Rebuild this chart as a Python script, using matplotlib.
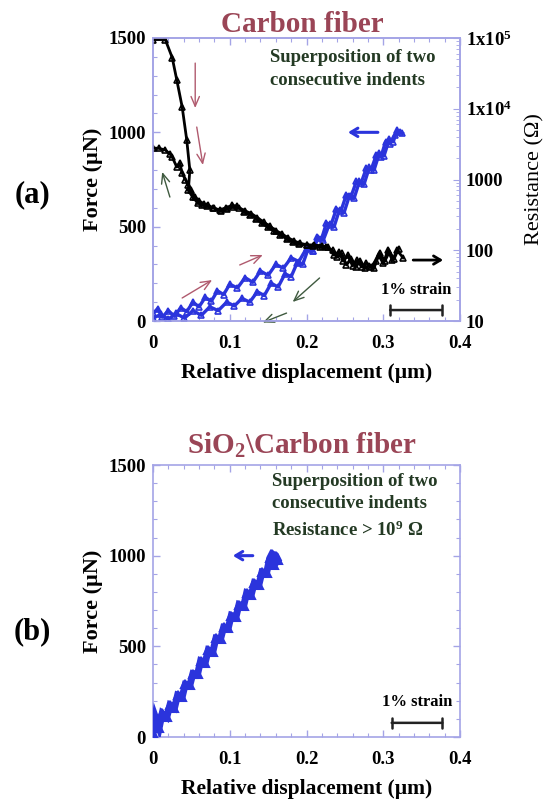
import numpy as np
import matplotlib
matplotlib.use("Agg")
import matplotlib.pyplot as plt
import matplotlib.transforms as mtransforms
from matplotlib.ticker import MultipleLocator, LogLocator, FixedLocator, NullFormatter

# ----------------------------
# Data
# ----------------------------
# (a) force, loading branch (x in um, F in uN)
load_x = [0.000, 0.006, 0.012, 0.020, 0.028, 0.036, 0.044, 0.052, 0.060, 0.068,
          0.076, 0.084, 0.092, 0.100, 0.110, 0.120, 0.130, 0.140, 0.150, 0.160,
          0.170, 0.180, 0.190, 0.200, 0.208, 0.215, 0.222, 0.230, 0.236, 0.243,
          0.249, 0.256, 0.262, 0.269, 0.275, 0.282, 0.288, 0.295, 0.301, 0.308,
          0.313, 0.318, 0.325]
load_F = [40, 65, 20, 55, 25, 70, 50, 100, 75, 125,
          105, 160, 140, 195, 175, 230, 205, 265, 242, 300,
          280, 335, 315, 385, 370, 440, 430, 515, 500, 590,
          575, 665, 650, 740, 725, 815, 800, 890, 875, 965,
          950, 1010, 995]

# (a) force, unloading branch
unload_x = [0.322, 0.315, 0.309, 0.303, 0.297, 0.291, 0.284, 0.278, 0.271, 0.265,
            0.258, 0.252, 0.245, 0.239, 0.232, 0.226, 0.220, 0.214, 0.208, 0.202,
            0.195, 0.188, 0.180, 0.172, 0.163, 0.154, 0.145, 0.136, 0.126, 0.116,
            0.106, 0.096, 0.085, 0.074, 0.063, 0.052, 0.041, 0.030, 0.020, 0.010,
            0.000]
unload_F = [1000, 985, 940, 950, 870, 880, 800, 810, 730, 740,
            660, 670, 585, 595, 510, 520, 440, 445, 370, 380,
            300, 310, 235, 250, 180, 200, 135, 155, 100, 120,
            80, 100, 55, 75, 30, 55, 15, 40, 10, 35,
            15]

# (a) resistance, first indent (Ohm)
res1_x = [0.000, 0.016, 0.025, 0.031, 0.038, 0.044, 0.048, 0.046, 0.052, 0.058,
          0.064, 0.070, 0.078, 0.087, 0.095, 0.103, 0.110, 0.118, 0.126, 0.134,
          0.142, 0.150, 0.158, 0.166, 0.174, 0.182, 0.190, 0.200, 0.208, 0.217,
          0.226, 0.234, 0.240, 0.246, 0.252, 0.258, 0.264, 0.270, 0.276, 0.282,
          0.288, 0.294, 0.300, 0.306, 0.312, 0.318, 0.326]
res1_R = [95000, 95000, 53000, 25500, 10600, 3600, 1350, 700, 560, 470,
          440, 420, 400, 370, 400, 430, 420, 350, 320, 280,
          240, 210, 185, 165, 145, 130, 122, 118, 115, 112,
          110, 100, 80, 90, 62, 75, 58, 70, 56, 60,
          56, 85, 65, 100, 72, 100, 78]

# (a) resistance, second indent
res2_x = [0.000, 0.008, 0.016, 0.022, 0.025, 0.031, 0.035, 0.038, 0.042, 0.046,
          0.050, 0.055, 0.060, 0.066, 0.072, 0.080, 0.088, 0.096, 0.104, 0.112,
          0.120, 0.128, 0.136, 0.144, 0.152, 0.160, 0.168, 0.176, 0.184, 0.192,
          0.200, 0.210, 0.220, 0.228, 0.236, 0.242, 0.248, 0.254, 0.260, 0.266,
          0.272, 0.278, 0.284, 0.290, 0.296, 0.302, 0.308, 0.314, 0.320]
res2_R = [2790, 2750, 2610, 2300, 2080, 1500, 1700, 1230, 1000, 830,
          700, 560, 500, 450, 430, 390, 360, 380, 410, 400,
          360, 330, 290, 250, 220, 190, 170, 150, 135, 125,
          120, 118, 116, 110, 85, 95, 70, 85, 60, 72,
          58, 66, 58, 70, 90, 70, 95, 75, 105]

# (b) SiO2 coated fiber, force only
sio2_x = [0.000, 0.003, 0.008, 0.012, 0.018, 0.022, 0.028, 0.032, 0.038, 0.042,
          0.048, 0.052, 0.058, 0.062, 0.068, 0.072, 0.078, 0.082, 0.088, 0.092,
          0.098, 0.102, 0.108, 0.112, 0.118, 0.122, 0.128, 0.132, 0.138, 0.142,
          0.148, 0.152, 0.155, 0.160, 0.163, 0.158]
sio2_F = [20, 110, 50, 130, 110, 175, 160, 230, 220, 290,
          285, 350, 345, 420, 410, 480, 470, 545, 540, 605,
          600, 670, 660, 730, 720, 795, 785, 850, 840, 910,
          905, 985, 1010, 1000, 975, 950]

res_ticks = [10, 100, 1000, 1e4, 1e5]
res_labels = ["10", "100", "1000", r"1x10$^4$", r"1x10$^5$"]

# ----------------------------
# Style
# ----------------------------
plt.rcParams["font.family"] = ["Liberation Serif", "DejaVu Serif"]
plt.rcParams["font.weight"] = "bold"
plt.rcParams["axes.labelweight"] = "bold"
plt.rcParams["mathtext.fontset"] = "custom"
plt.rcParams["mathtext.default"] = "bf"
plt.rcParams["mathtext.bf"] = "Liberation Serif:bold"
plt.rcParams["mathtext.rm"] = "Liberation Serif"

SPINE = "#a4a4e6"
BLUE = "#2b34dc"
PINK = "#b05a6e"
GREEN = "#3f5a3f"
TITLE = "#9a4556"
TXT = "#243a24"


def style_axes(ax, right_ticks=True, zero_shift=6):
    for s in ax.spines.values():
        s.set_color(SPINE)
        s.set_linewidth(1.2)
    ax.set_xlim(0, 0.4)
    ax.set_ylim(0, 1500)
    ax.xaxis.set_major_locator(MultipleLocator(0.1))
    ax.xaxis.set_minor_locator(MultipleLocator(0.02))
    ax.yaxis.set_major_locator(MultipleLocator(500))
    ax.yaxis.set_minor_locator(MultipleLocator(100))
    ax.set_xticks([0, 0.1, 0.2, 0.3, 0.4])
    ax.set_xticklabels(["0", "0.1", "0.2", "0.3", "0.4"])
    ax.tick_params(which="both", direction="in", color=SPINE, top=True,
                   right=right_ticks, labelsize=13.5)
    ax.tick_params(which="major", length=5, width=1)
    ax.tick_params(which="minor", length=3, width=0.8)
    ax.tick_params(axis="x", pad=10)
    ax.tick_params(axis="y", pad=5)
    ax.set_xlabel("Relative displacement (\u00b5m)", fontsize=15.5, labelpad=8)
    ax.set_ylabel("Force (\u00b5N)", fontsize=16, labelpad=4)
    # the "0" force label sits a bit low in the original
    fig.canvas.draw()
    lab = ax.yaxis.get_majorticklabels()[0]
    lab.set_transform(lab.get_transform() +
                      mtransforms.ScaledTranslation(0, -zero_shift / 72, fig.dpi_scale_trans))


def arrow(ax, tail, head, color, lw=1.0, hl=0.7, hw=0.3):
    ax.annotate("", xy=head, xytext=tail, annotation_clip=False,
                arrowprops=dict(arrowstyle=f"->,head_length={hl},head_width={hw}",
                                color=color, lw=lw, shrinkA=0, shrinkB=0))


def scale_bar(ax, x0, x1, y, ty):
    ax.annotate("", xy=(x1, y), xytext=(x0, y),
                arrowprops=dict(arrowstyle="|-|,widthA=0.35,widthB=0.35",
                                color="#222222", lw=1.8, shrinkA=0, shrinkB=0))
    ax.text((x0 + x1) / 2, ty, "1% strain", ha="center", va="center", fontsize=12)


fig = plt.figure(figsize=(5.54, 8), dpi=100)

# ----------------------------
# (a) Carbon fiber
# ----------------------------
ax = fig.add_axes([153 / 554, 1 - 321 / 800, 307 / 554, 283 / 800])
style_axes(ax, right_ticks=False, zero_shift=4)
for xs, fs in [(load_x, load_F), (unload_x, unload_F)]:
    ax.plot(xs, fs, color=BLUE, lw=2.4, marker="^", ms=4, mfc="none", mew=1.2, zorder=3)

ax2 = ax.twinx()
ax2.set_yscale("log")
ax2.set_ylim(10, 1e5)
ax2.yaxis.set_major_locator(FixedLocator(res_ticks))
ax2.set_yticklabels(res_labels)
ax2.yaxis.set_minor_locator(LogLocator(base=10, subs=np.arange(2, 10)))
ax2.yaxis.set_minor_formatter(NullFormatter())
for s in ax2.spines.values():
    s.set_color(SPINE)
    s.set_linewidth(1.2)
ax2.tick_params(which="both", direction="in", color=SPINE, labelsize=13.5, pad=4)
ax2.tick_params(which="major", length=5)
ax2.tick_params(which="minor", length=3)
for xs, rs in [(res1_x, res1_R), (res2_x, res2_R)]:
    ax2.plot(xs, rs, color="black", lw=2.0, marker="^", ms=4, mfc="none", mew=1.2)
ax2.set_ylabel("Resistance (\u03a9)", fontsize=16, fontweight="normal", labelpad=10)

# arrows
arrow(ax, (0.055, 1367), (0.055, 1129), PINK)
arrow(ax, (0.057, 1028), (0.065, 827), PINK)
arrow(ax, (0.038, 122), (0.077, 217), PINK)
arrow(ax, (0.113, 297), (0.143, 350), PINK)
arrow(ax, (0.022, 657), (0.012, 790), GREEN)
arrow(ax, (0.217, 228), (0.182, 101), GREEN)
arrow(ax, (0.174, 42), (0.143, -8), GREEN)
arrow(ax, (0.293, 1000), (0.254, 1000), BLUE, lw=2.2, hl=0.5, hw=0.3)
arrow(ax, (0.339, 323), (0.378, 323), "black", lw=2.0, hl=0.5, hw=0.3)

ax.text(0.152, 1399, "Superposition of two", fontsize=13.5, color=TXT, va="center")
ax.text(0.152, 1277, "consecutive indents", fontsize=13.5, color=TXT, va="center")
scale_bar(ax, 0.309, 0.376, 58, 164)

fig.text(0.545, 1 - 25 / 800, "Carbon fiber", ha="center", va="center",
         fontsize=21, color=TITLE)
fig.text(32 / 554, 1 - 195 / 800, "(a)", ha="center", va="center", fontsize=22)

# ----------------------------
# (b) SiO2 \ Carbon fiber
# ----------------------------
bx = fig.add_axes([153 / 554, 1 - 737 / 800, 307 / 554, 272 / 800])
style_axes(bx, right_ticks=True, zero_shift=11)
bx.plot(sio2_x, sio2_F, color=BLUE, lw=5, marker="^", ms=6, mew=1.5,
        solid_joinstyle="miter", zorder=3)
arrow(bx, (0.130, 1000), (0.104, 1000), BLUE, lw=2.2, hl=0.5, hw=0.3)

bx.text(0.155, 1411, "Superposition of two", fontsize=13.5, color=TXT, va="center")
bx.text(0.155, 1289, "consecutive indents", fontsize=13.5, color=TXT, va="center")
bx.text(0.155, 1139, "Resistance > 10$^9$ \u03a9", fontsize=13.5, color=TXT, va="center")
scale_bar(bx, 0.311, 0.377, 78, 194)

fig.text(0.545, 1 - 445 / 800, "SiO$_2$\\Carbon fiber", ha="center", va="center",
         fontsize=21, color=TITLE)
fig.text(32 / 554, 1 - 632 / 800, "(b)", ha="center", va="center", fontsize=22)

fig.savefig("out.png", dpi=100)
